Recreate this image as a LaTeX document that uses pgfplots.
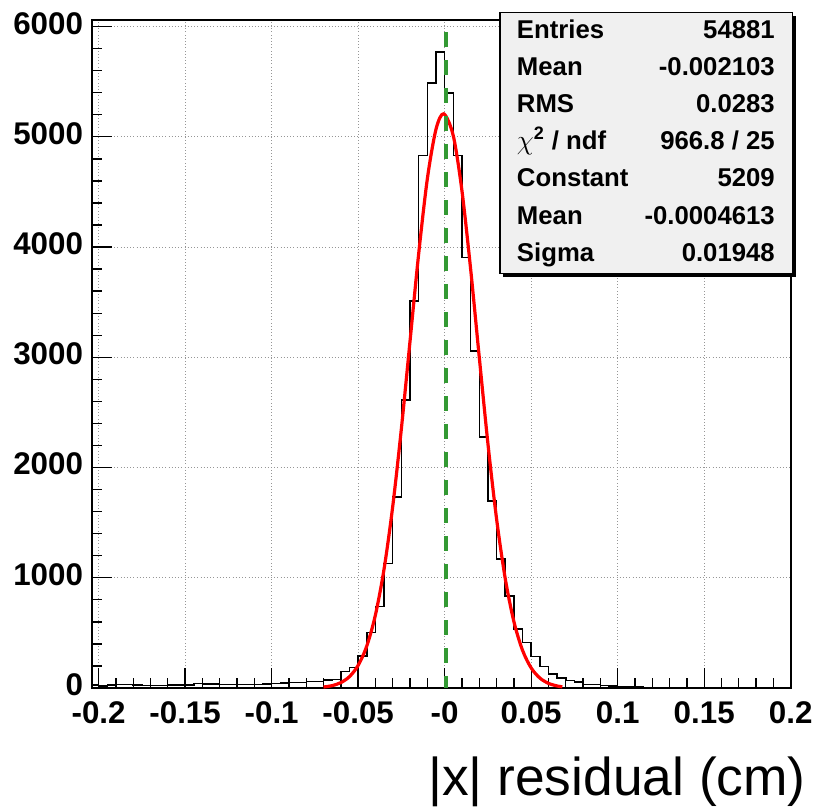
\documentclass[border=0pt]{standalone}
\usepackage{pgfplots}
\pgfplotsset{compat=1.18}
\usepackage{fontspec}
\setmainfont{Liberation Sans}
\definecolor{fitred}{RGB}{255,0,0}
\definecolor{meangreen}{RGB}{51,153,51}
\definecolor{boxfill}{RGB}{240,240,240}
\definecolor{gridgray}{RGB}{150,150,150}
\begin{document}
\begin{tikzpicture}
\useasboundingbox (-68.775pt,-90.75pt) rectangle (543.225pt,516pt);
\begin{axis}[
  at={(0pt,0pt)}, anchor=south west,
  scale only axis, width=524.25pt, height=501pt,
  xmin=-0.204, xmax=0.2, ymin=0, ymax=6060,
  xtick={-0.2,-0.15,-0.1,-0.05,0,0.05,0.1,0.15,0.2},
  xticklabels={-0.2,-0.15,-0.1,-0.05,-0,0.05,0.1,0.15,0.2},
  ytick={0,1000,2000,3000,4000,5000,6000},
  yticklabels={0,1000,2000,3000,4000,5000,6000},
  minor x tick num=4, minor y tick num=4,
  tick align=inside, tick pos=left,
  major tick length=15pt, minor tick length=7.5pt,
  tick style={black, line width=1pt},
  grid=major, major grid style={gridgray, dotted, line width=0.8pt},
  axis line style={black, line width=1.5pt},
  ticklabel style={font=\fontsize{23.5}{23.5}\selectfont\bfseries, inner sep=0pt},
  xticklabel style={yshift=-10pt},
  yticklabel style={xshift=-6.3pt, yshift=2.5pt},
  xlabel={|x| residual (cm)},
  xlabel style={font=\fontsize{40}{40}\selectfont, at={(rel axis cs:1,0)}, anchor=base east, xshift=11.5pt, yshift=-80.25pt, inner sep=0pt},
  clip=true,
]
\addplot[const plot, black, line width=1.1pt] coordinates {
(-0.205,27) (-0.200,18) (-0.195,27) (-0.190,34) (-0.185,33) (-0.180,27)
(-0.175,22) (-0.170,22) (-0.165,21) (-0.160,26) (-0.155,27) (-0.150,29)
(-0.145,42) (-0.140,36) (-0.135,35) (-0.130,30) (-0.125,33) (-0.120,31)
(-0.115,34) (-0.110,33) (-0.105,37) (-0.100,40) (-0.095,46) (-0.090,48)
(-0.085,52) (-0.080,58) (-0.075,60) (-0.070,73) (-0.065,76) (-0.060,150)
(-0.055,185) (-0.050,290) (-0.045,505) (-0.040,737) (-0.035,1130) (-0.030,1734)
(-0.025,2611) (-0.020,3509) (-0.015,4832) (-0.010,5488) (-0.005,5769)
(0.000,5397) (0.005,4832) (0.010,3907) (0.015,3058) (0.020,2278) (0.025,1695)
(0.030,1170) (0.035,834) (0.040,535) (0.045,411) (0.050,284) (0.055,193)
(0.060,125) (0.065,90) (0.070,70) (0.075,55) (0.080,34) (0.085,30)
(0.090,21) (0.095,19) (0.100,12) (0.105,10) (0.110,7) (0.115,6)
(0.120,5) (0.125,4) (0.130,4) (0.135,3) (0.140,3) (0.145,2)
(0.150,2) (0.155,2) (0.160,2) (0.165,1) (0.170,1) (0.175,1)
(0.180,1) (0.185,1) (0.190,1) (0.195,1) (0.200,1)
};
\addplot[fitred, line width=2.4pt, smooth] coordinates {
(-0.070,8.9) (-0.065,21.5) (-0.060,48.8) (-0.055,103.4) (-0.050,205.3)
(-0.045,381.5) (-0.040,664.0) (-0.035,1081.7) (-0.030,1649.7) (-0.025,2355.8)
(-0.020,3149.6) (-0.015,3942.6) (-0.010,4620.5) (-0.005,5069.4) (-0.0005,5209)
(0.005,5008.3) (0.010,4509.6) (0.015,3801.7) (0.020,3000.6) (0.025,2217.3)
(0.030,1533.9) (0.035,993.7) (0.040,602.7) (0.045,342.1) (0.050,181.9)
(0.055,90.5) (0.060,42.2) (0.065,18.4) (0.068,10.8)
};
\addplot[meangreen, line width=3pt, dash pattern=on 11.25pt off 9.75pt] coordinates {(0.0008,5950) (0.0008,0)};
\end{axis}
% statistics box
\fill[black] (308.45pt,308.3pt) rectangle (528pt,504.25pt);
\draw[fill=boxfill, line width=1.1pt] (306.2pt,311pt) rectangle (525.75pt,506.5pt);
\begin{scope}[every node/.style={inner sep=0pt, font=\fontsize{19.3}{19.3}\selectfont\bfseries}]
\node[anchor=base west] at (318.75pt,487.1pt) {Entries};
\node[anchor=base east] at (512.5pt,487.1pt) {54881};
\node[anchor=base west] at (318.75pt,459.4pt) {Mean};
\node[anchor=base east] at (512.5pt,459.4pt) {-0.002103};
\node[anchor=base west] at (318.75pt,431.6pt) {RMS};
\node[anchor=base east] at (512.5pt,431.6pt) {0.0283};
\node[anchor=base west] at (318.75pt,403.5pt) {$\chi$\textsuperscript{2} / ndf};
\node[anchor=base east] at (512.5pt,403.5pt) {966.8 / 25};
\node[anchor=base west] at (318.75pt,375.75pt) {Constant};
\node[anchor=base east] at (512.5pt,375.75pt) {5209};
\node[anchor=base west] at (318.75pt,347.6pt) {Mean};
\node[anchor=base east] at (512.5pt,347.6pt) {-0.0004613};
\node[anchor=base west] at (318.75pt,319.5pt) {Sigma};
\node[anchor=base east] at (512.5pt,319.5pt) {0.01948};
\end{scope}
\end{tikzpicture}
\end{document}
